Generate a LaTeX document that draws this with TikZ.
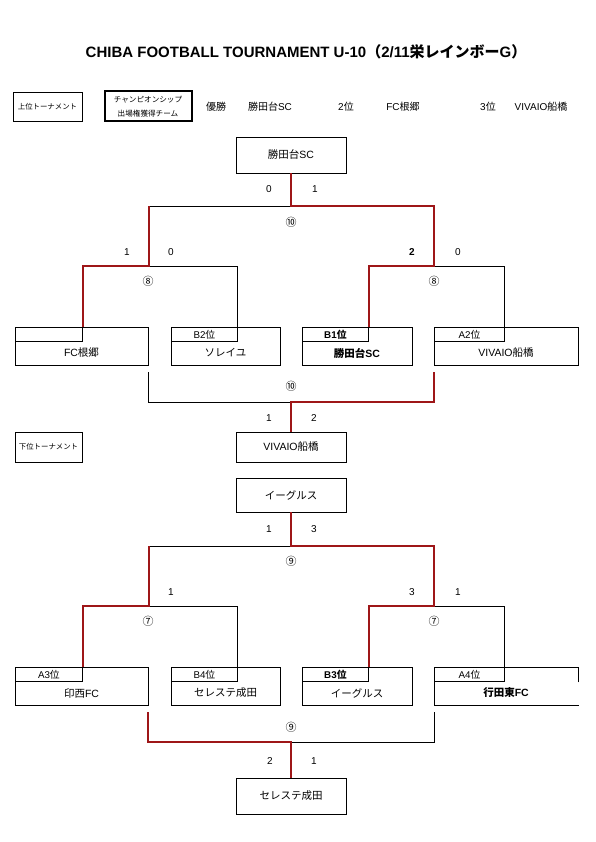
\documentclass[tikz,border=0pt]{standalone}
\usepackage{fontspec}
\setmainfont{Liberation Sans}
\newfontfamily\jp{Noto Sans CJK JP}
\definecolor{rd}{RGB}{158,22,24}
\begin{document}
\begin{tikzpicture}[x=1pt,y=-1pt,
  blk/.style={draw=black,line width=0.8pt},
  win/.style={draw=rd,line width=2.6pt},
  tbox/.style={draw=black,line width=0.8pt,inner sep=0pt,anchor=north west,minimum height=38pt},
  lbox/.style={draw=black,line width=0.8pt,inner sep=0pt,anchor=north west,minimum height=14pt,font=\fontsize{9.8}{10}\selectfont},
  tname/.style={inner sep=0pt,font=\fontsize{10.5}{11}\selectfont},
  wbox/.style={draw=black,line width=0.8pt,inner sep=0pt,minimum width=110pt,font=\fontsize{10.5}{11}\selectfont},
  score/.style={inner sep=0pt,font=\fontsize{10}{11}\selectfont},
  rnd/.style={inner sep=0pt,font=\jp\fontsize{11}{11}\selectfont},
  hdr/.style={inner sep=0pt,font=\fontsize{10}{11}\selectfont}
]
\useasboundingbox (0,0) rectangle (595,842);

% title
\node[inner sep=0pt,font=\bfseries\fontsize{15}{17}\selectfont] (title) at (306,52)
  {CHIBA FOOTBALL TOURNAMENT U-10{\jp （}2/11{\jp 栄レインボー}G{\jp ）}};

% header
\node[draw,line width=0.8pt,minimum width=69pt,minimum height=29pt,inner sep=0pt,font=\jp\fontsize{7.4}{8}\selectfont] (hdrU) at (47.5,107) {上位トーナメント};
\node[draw,line width=2pt,minimum width=87pt,minimum height=30pt,inner sep=0pt,align=center,font=\jp\fontsize{7.6}{14}\selectfont] (hdrC) at (148,106.5) {チャンピオンシップ\\出場権獲得チーム};
\node[hdr] (h1) at (216,107) {\jp 優勝};
\node[hdr] (h2) at (270,107) {{\jp 勝田台}SC};
\node[hdr] (h3) at (346,107) {2{\jp 位}};
\node[hdr] (h4) at (403,107) {FC{\jp 根郷}};
\node[hdr] (h5) at (488,107) {3{\jp 位}};
\node[hdr] (h6) at (541,107) {VIVAIO{\jp 船橋}};

% ===== upper tournament =====
\node[wbox,minimum height=36pt] (champU) at (291,155) {{\jp 勝田台}SC};

\node[tbox,minimum width=133pt] (tA) at (15,327) {};
\node[lbox,minimum width=67pt] (tAl) at (15,327) {};
\node[tname] (tAn) at (81.5,353) {FC{\jp 根郷}};

\node[tbox,minimum width=109pt] (tB) at (171,327) {};
\node[lbox,minimum width=66pt] (tBl) at (171,327) {B2{\jp 位}};
\node[tname] (tBn) at (225.5,353) {\jp ソレイユ};

\node[tbox,minimum width=110pt] (tC) at (302,327) {};
\node[lbox,minimum width=66pt,font=\bfseries\fontsize{9.8}{10}\selectfont] (tCl) at (302,327) {B1{\jp 位}};
\node[tname,font=\bfseries\fontsize{10.5}{11}\selectfont] (tCn) at (357,353) {{\jp 勝田台}SC};

\node[tbox,minimum width=144pt] (tD) at (434,327) {};
\node[lbox,minimum width=70pt] (tDl) at (434,327) {A2{\jp 位}};
\node[tname] (tDn) at (506,353) {VIVAIO{\jp 船橋}};

\coordinate (jU) at (291,206);
\coordinate (jUL) at (149,206);
\coordinate (jUR) at (434,206);
\coordinate (sL) at (149,266);
\coordinate (sR) at (434,266);

\draw[blk] (jUL) -- (jU);
\draw[blk] (sL) -| (tBl.north east);
\draw[blk] (sR) -| (tDl.north east);
\draw[win] (tAl.north east) |- (sL) -- (jUL);
\draw[win] (champU.south) -- (jU) -- (jUR) -- (sR) -| (tCl.north east);

\node[score] (s1) at (269,189) {0};
\node[score] (s2) at (315,189) {1};
\node[score] (s3) at (127,252) {1};
\node[score] (s4) at (171,252) {0};
\node[score,font=\bfseries\fontsize{10}{11}\selectfont] (s5) at (412,252) {2};
\node[score] (s6) at (458,252) {0};
\node[rnd] (r1) at (291,222) {⑩};
\node[rnd] (r2) at (148,281) {⑧};
\node[rnd] (r3) at (434,281) {⑧};

% third place
\node[wbox,minimum height=30pt] (third) at (291,447) {VIVAIO{\jp 船橋}};
\coordinate (q3L) at (148,372);
\coordinate (q3R) at (434,372);
\coordinate (j3) at (291,402);
\draw[blk] (q3L) |- (j3);
\draw[win] (q3R) |- (j3) -- (third.north);
\node[rnd] (r4) at (291,386) {⑩};
\node[score] (s7) at (269,418) {1};
\node[score] (s8) at (314,418) {2};

% ===== lower tournament =====
\node[draw,line width=0.8pt,minimum width=67pt,minimum height=30pt,inner sep=0pt,font=\jp\fontsize{7.4}{8}\selectfont] (hdrL) at (48.5,447) {下位トーナメント};

\node[wbox,minimum height=34pt] (champL) at (291,495) {\jp イーグルス};

\node[tbox,minimum width=133pt] (tE) at (15,667) {};
\node[lbox,minimum width=67pt] (tEl) at (15,667) {A3{\jp 位}};
\node[tname] (tEn) at (81.5,693) {{\jp 印西}FC};

\node[tbox,minimum width=109pt] (tF) at (171,667) {};
\node[lbox,minimum width=66pt] (tFl) at (171,667) {B4{\jp 位}};
\node[tname] (tFn) at (225.5,693) {\jp セレステ成田};

\node[tbox,minimum width=110pt] (tG) at (302,667) {};
\node[lbox,minimum width=66pt,font=\bfseries\fontsize{9.8}{10}\selectfont] (tGl) at (302,667) {B3{\jp 位}};
\node[tname] (tGn) at (357,693) {\jp イーグルス};

\node[tbox,draw=none,minimum width=144pt] (tH) at (434,667) {};
\draw[blk] (tH.east) ++(0,-4) -- (tH.north east) -- (tH.north west) -- (tH.south west) -- (tH.south east);
\node[lbox,minimum width=70pt] (tHl) at (434,667) {A4{\jp 位}};
\node[tname,font=\bfseries\fontsize{10.5}{11}\selectfont] (tHn) at (506,693) {{\jp 行田東}FC};

\coordinate (jL) at (291,546);
\coordinate (jLL) at (149,546);
\coordinate (jLR) at (434,546);
\coordinate (s2L) at (149,606);
\coordinate (s2R) at (434,606);

\draw[blk] (jLL) -- (jL);
\draw[blk] (s2L) -| (tFl.north east);
\draw[blk] (s2R) -| (tHl.north east);
\draw[win] (tEl.north east) |- (s2L) -- (jLL);
\draw[win] (champL.south) -- (jL) -- (jLR) -- (s2R) -| (tGl.north east);

\node[score] (s9) at (269,529) {1};
\node[score] (s10) at (314,529) {3};
\node[score] (s11) at (171,592) {1};
\node[score] (s12) at (412,592) {3};
\node[score] (s13) at (458,592) {1};
\node[rnd] (r5) at (291,561) {⑨};
\node[rnd] (r6) at (148,621) {⑦};
\node[rnd] (r7) at (434,621) {⑦};

% fifth place
\node[wbox,minimum height=36pt] (fifth) at (291,796) {\jp セレステ成田};
\coordinate (q5L) at (148,712);
\coordinate (q5R) at (434,712);
\coordinate (j5) at (291,742);
\draw[blk] (q5R) |- (j5);
\draw[win] (q5L) |- (j5) -- (fifth.north);
\node[rnd] (r8) at (291,727) {⑨};
\node[score] (s14) at (270,761) {2};
\node[score] (s15) at (314,761) {1};
\end{tikzpicture}
\end{document}
